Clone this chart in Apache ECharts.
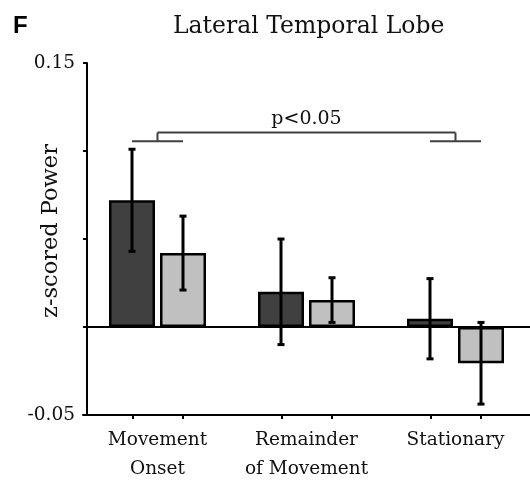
<!DOCTYPE html>
<html>
<head>
<meta charset="utf-8">
<script src="https://cdn.jsdelivr.net/npm/echarts@6/dist/echarts.min.js"></script>
<style>html,body{margin:0;padding:0;background:#fff}#c{width:530px;height:484px}</style>
</head>
<body>
<div id="c"></div>
<script>
// ---- data ----
const categories = ['Movement\nOnset', 'Remainder\nof Movement', 'Stationary'];
const darkMeans = [0.072, 0.020, 0.0047];
const darkErrs  = [0.029, 0.030, 0.0228];
const lightMeans = [0.042, 0.0153, -0.0206];
const lightErrs  = [0.021, 0.0127, 0.0232];
const yTickLabels = ['0.15', '-0.05'];
const bracketGroups = [0, 2];
const bracketLow = 0.1055;
const bracketHigh = 0.1105;
const bracketText = 'p<0.05';

// ---- style / layout ----
const SERIF = 'DejaVu Serif';
const BAR_W = 46, BAR_GAP_PX = 5;
const GRID_LEFT = 83, GRID_W = 459, GRID_TOP = 63, GRID_BOTTOM = 69;
const catW = GRID_W / categories.length;
const halfOff = (BAR_W + BAR_GAP_PX) / 2;   // px from group centre to bar centre
const offCat = halfOff / catW;              // same, in category units

const tickVals = [];
categories.forEach((c, i) => { tickVals.push(i + 0.5 - offCat, i + 0.5 + offCat); });

function errSeries(means, errs, sign) {
  return {
    type: 'custom', xAxisIndex: 0, yAxisIndex: 0, z: 5, silent: true,
    data: means.map((m, i) => [i, m, errs[i]]),
    renderItem: function (params, api) {
      const i = api.value(0), m = api.value(1), e = api.value(2);
      const cx = api.coord([i, m])[0] + sign * halfOff;
      const yTop = api.coord([i, m + e])[1];
      const yBot = api.coord([i, m - e])[1];
      const st = { stroke: '#000', lineWidth: 3 };
      return { type: 'group', children: [
        { type: 'line', shape: { x1: cx, y1: yTop, x2: cx, y2: yBot }, style: st },
        { type: 'line', shape: { x1: cx - 3.5, y1: yTop, x2: cx + 3.5, y2: yTop }, style: st },
        { type: 'line', shape: { x1: cx - 3.5, y1: yBot, x2: cx + 3.5, y2: yBot }, style: st }
      ]};
    }
  };
}

const chart = echarts.init(document.getElementById('c'), null, { renderer: 'canvas' });
chart.setOption({
  animation: false,
  backgroundColor: '#fff',
  title: {
    text: 'Lateral Temporal Lobe', left: 168, top: 10,
    textStyle: { fontFamily: SERIF, fontSize: 23.5, fontWeight: 'normal', color: '#111' }
  },
  graphic: [
    { type: 'text', left: 13, top: 14, style: { text: 'F', font: 'bold 24px "Liberation Sans"', fill: '#000' } },
    { type: 'text', x: 51, y: 231, rotation: Math.PI / 2,
      style: { text: 'z-scored Power', font: '22.5px "' + SERIF + '"', fill: '#111', align: 'center', verticalAlign: 'middle' } }
  ],
  grid: { left: GRID_LEFT, width: GRID_W, top: GRID_TOP, bottom: GRID_BOTTOM, containLabel: false },
  xAxis: [
    {
      type: 'category', data: categories, position: 'bottom',
      axisLine: { onZero: false, lineStyle: { color: '#000', width: 2 } },
      axisTick: { show: false },
      axisLabel: { color: '#111', fontFamily: SERIF, fontSize: 18.5, lineHeight: 29, margin: 11, interval: 0 },
      splitLine: { show: false }
    },
    {
      type: 'value', min: 0, max: categories.length, position: 'bottom',
      axisLine: { show: false, onZero: false },
      axisTick: { show: true, customValues: tickVals, length: 4, lineStyle: { color: '#000', width: 2 } },
      axisLabel: { show: false },
      splitLine: { show: false }
    }
  ],
  yAxis: {
    type: 'value', min: -0.05, max: 0.15, interval: 0.05, offset: -4,
    axisLine: { show: true, lineStyle: { color: '#000', width: 2 } },
    axisTick: { show: true, length: 4, lineStyle: { color: '#000', width: 2 } },
    axisLabel: {
      color: '#111', fontFamily: SERIF, fontSize: 18.5, margin: 12,
      formatter: function (v) {
        const s = String(Math.round(v * 100) / 100);
        return yTickLabels.indexOf(s) >= 0 ? s : '';
      }
    },
    splitLine: { show: false }
  },
  series: [
    {
      type: 'bar', xAxisIndex: 0, data: darkMeans, barWidth: BAR_W, barGap: (BAR_GAP_PX / BAR_W * 100) + '%',
      itemStyle: { color: '#404040', borderColor: '#000', borderWidth: 2.5 }, z: 2,
      markLine: {
        silent: true, symbol: 'none', label: { show: false },
        lineStyle: { color: '#000', width: 2, type: 'solid' },
        data: [{ yAxis: 0 }]
      }
    },
    {
      type: 'bar', xAxisIndex: 0, data: lightMeans, barWidth: BAR_W,
      itemStyle: { color: '#c0c0c0', borderColor: '#000', borderWidth: 2.5 }, z: 2
    },
    errSeries(darkMeans, darkErrs, -1),
    errSeries(lightMeans, lightErrs, 1),
    {
      type: 'custom', xAxisIndex: 0, yAxisIndex: 0, silent: true, z: 6,
      data: [[bracketGroups[0], bracketGroups[1], bracketLow, bracketHigh]],
      renderItem: function (params, api) {
        const g0 = api.value(0), g1 = api.value(1), lo = api.value(2), hi = api.value(3);
        const x0 = api.coord([g0, lo])[0], x1 = api.coord([g1, lo])[0];
        const yLo = api.coord([g0, lo])[1], yHi = api.coord([g0, hi])[1];
        const st = { stroke: '#404040', lineWidth: 2 };
        return { type: 'group', children: [
          { type: 'line', shape: { x1: x0 - halfOff, y1: yLo, x2: x0 + halfOff, y2: yLo }, style: st },
          { type: 'line', shape: { x1: x1 - halfOff, y1: yLo, x2: x1 + halfOff, y2: yLo }, style: st },
          { type: 'line', shape: { x1: x0, y1: yLo, x2: x0, y2: yHi }, style: st },
          { type: 'line', shape: { x1: x1, y1: yLo, x2: x1, y2: yHi }, style: st },
          { type: 'line', shape: { x1: x0, y1: yHi, x2: x1, y2: yHi }, style: st },
          { type: 'text', x: (x0 + x1) / 2, y: yHi - 4,
            style: { text: bracketText, font: '19px "' + SERIF + '"', fill: '#111', align: 'center', verticalAlign: 'bottom' } }
        ]};
      }
    }
  ]
});
</script>
</body>
</html>
